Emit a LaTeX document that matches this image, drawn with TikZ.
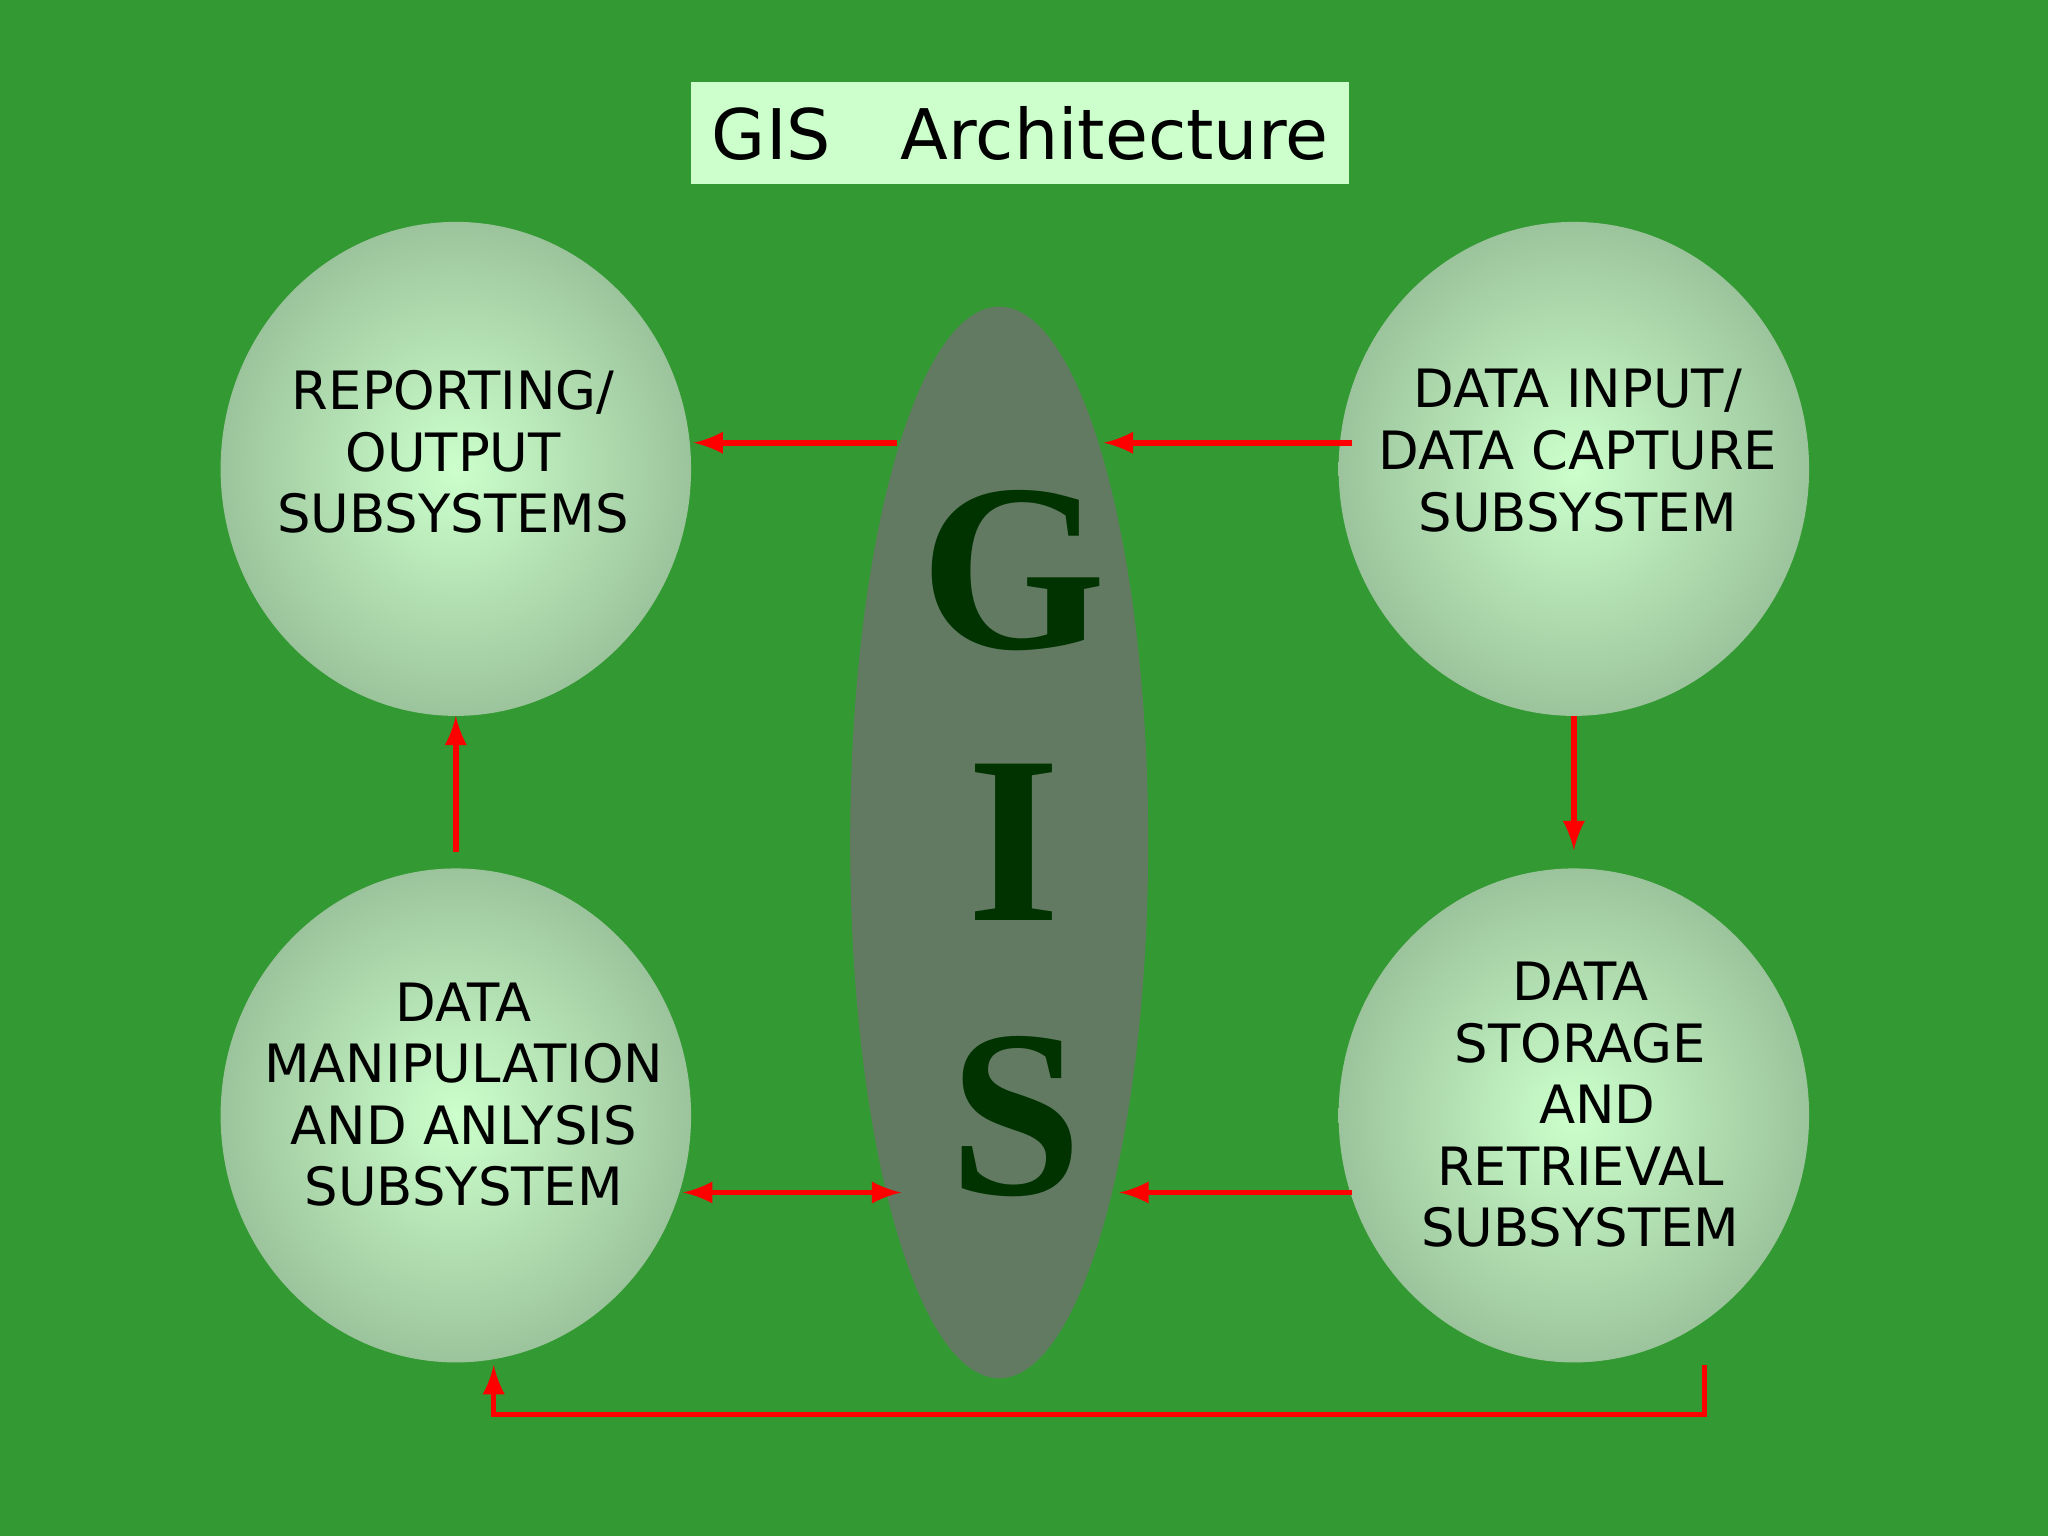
\documentclass[tikz,border=0pt]{standalone}
\usepackage{fontspec}
\setmainfont{DejaVu Sans}
\newfontfamily\serifG{Liberation Serif}
\usetikzlibrary{shapes.geometric}
\definecolor{bg}{HTML}{339933}
\definecolor{pale}{HTML}{CCFFCC}
\definecolor{rim}{HTML}{9CC49C}
\definecolor{oval}{HTML}{627A62}
\definecolor{dk}{HTML}{003300}
\tikzset{
  ball/.style={ellipse,inner sep=0pt,minimum width=3.6cm,minimum height=3.78cm,inner color=pale,outer color=rim},
  lbl/.style={align=center,inner sep=0pt,font=\fontsize{11.5}{13.4}\selectfont},
  arr/.style={draw=red,line width=1.2pt,-latex},
  big/.style={font=\serifG\bfseries\fontsize{52}{52}\selectfont,text=dk}
}
\begin{document}
\begin{tikzpicture}[x=0.01cm,y=-0.01cm]
\fill[bg] (0,0) rectangle (1568,1176);
\useasboundingbox (0,0) rectangle (1568,1176);
\node[fill=pale,inner sep=0pt,minimum width=5.04cm,minimum height=0.78cm,font=\fontsize{15.2}{18}\selectfont] (title) at (781,102) {GIS\quad Architecture};
\node[ellipse,fill=oval,inner sep=0pt,minimum width=2.28cm,minimum height=8.2cm] (gis) at (765,645) {};
\node[big] (g) at (776,437) {G};
\node[big] (i) at (776,645) {I};
\node[big] (s) at (778,855) {S};
\node[ball] (rep) at (349,359) {};
\node[ball] (inp) at (1205,359) {};
\node[ball] (man) at (349,854) {};
\node[ball] (sto) at (1205,854) {};
\node[lbl] (repl) at (347,346) {REPORTING/\\OUTPUT\\SUBSYSTEMS};
\node[lbl] (inpl) at (1208,345) {DATA INPUT/\\DATA CAPTURE\\SUBSYSTEM};
\node[lbl] (manl) at (355,838) {DATA\\MANIPULATION\\AND ANLYSIS\\SUBSYSTEM};
\node[lbl] (stol) at (1210,846) {DATA\\STORAGE\\\ \ AND\\RETRIEVAL\\SUBSYSTEM};
\coordinate (a1) at (1035,339); \coordinate (a2) at (845,339);
\coordinate (b1) at (687,339); \coordinate (b2) at (531,339);
\coordinate (c1) at (1205,548); \coordinate (c2) at (1205,651);
\coordinate (d1) at (349,652); \coordinate (d2) at (349,548);
\coordinate (e1) at (523,913); \coordinate (e2) at (690,913);
\coordinate (f1) at (1035,913); \coordinate (f2) at (857,913);
\coordinate (h1) at (1305,1045); \coordinate (h2) at (378,1045);
\draw[arr] (a1) -- (a2);
\draw[arr] (b1) -- (b2);
\draw[arr] (c1) -- (c2);
\draw[arr] (d1) -- (d2);
\draw[arr,latex-latex] (e1) -- (e2);
\draw[arr] (f1) -- (f2);
\draw[arr] (h1) -- (1305,1083) -- (378,1083) -- (h2);
\end{tikzpicture}
\end{document}
